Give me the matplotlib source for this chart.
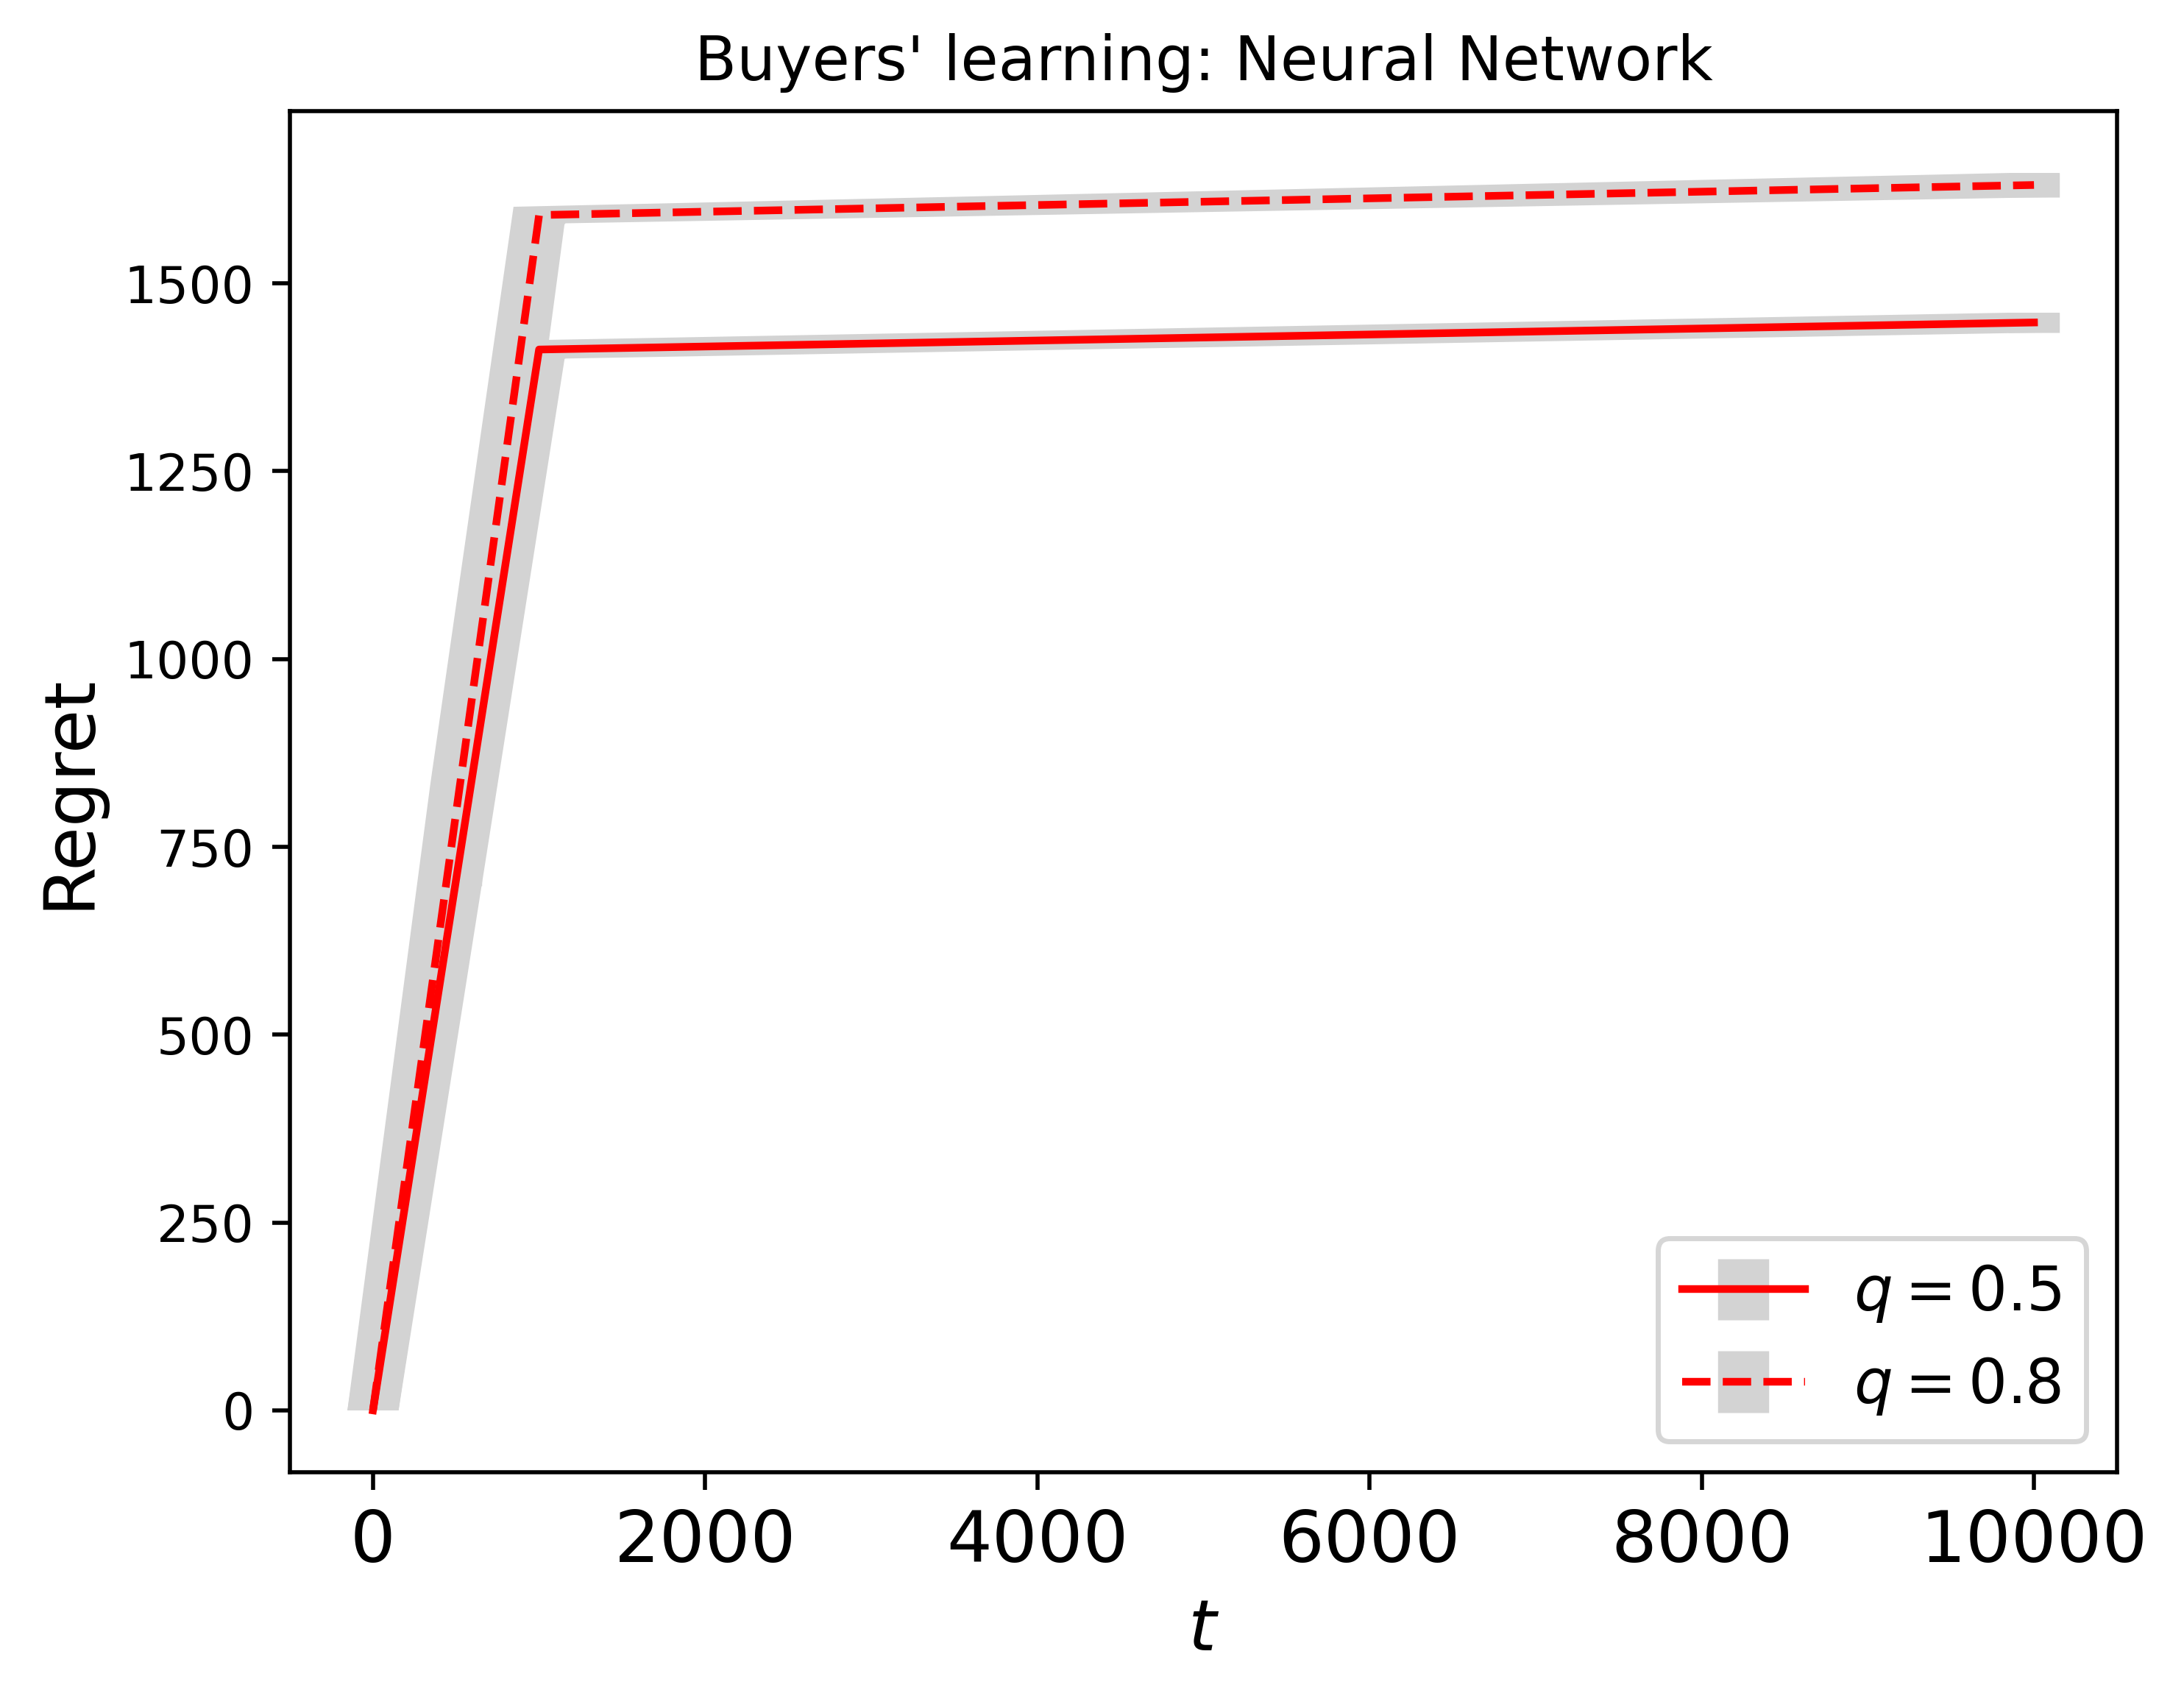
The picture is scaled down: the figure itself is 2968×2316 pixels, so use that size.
import matplotlib
matplotlib.use("Agg")
import matplotlib.pyplot as plt
import numpy as np

# values
t = [0, 500, 1000, 10000]
regret_q05 = [0, 706, 1412, 1448]
std_q05 = [0, 8, 12, 13]
regret_q08 = [0, 795, 1591, 1631]
std_q08 = [0, 40, 11, 16]
labels = ["$q = 0.5$", "$q = 0.8$"]
styles = ["-", "--"]

ELW = 10  # width of the grey error bars (pt)

fig = plt.figure(figsize=(5.936, 4.632), dpi=500)
ax = fig.add_axes([0.13275, 0.13601, 0.83659, 0.79879])

series = [(regret_q05, std_q05), (regret_q08, std_q08)]
for (y, e), ls, lab in zip(series, styles, labels):
    eb = ax.errorbar(t, y, yerr=e, color="red", ls=ls, lw=1.5,
                     ecolor="lightgray", elinewidth=ELW, label=lab, zorder=3)
    for c in eb[2]:
        c.set_zorder(1)

xl = ax.get_xlim()
yl = ax.get_ylim()
# half the bar width in data units of t
hx = ELW / 2 * fig.dpi / 72 / ax.bbox.width * (xl[1] - xl[0])

# grey band = the error bars swept along the mean curve
for y, e in series:
    tt = np.array(t, dtype=float)
    yy = np.array(y, dtype=float)
    ee = np.array(e, dtype=float)
    upper = np.column_stack([tt - hx, yy + ee])
    lower = np.column_stack([tt + hx, yy - ee])[::-1]
    poly = np.vstack([[tt[0] - hx, yy[0] - ee[0]], upper,
                      [tt[-1] + hx, yy[-1] + ee[-1]], lower])
    ax.fill(poly[:, 0], poly[:, 1], color="lightgray", lw=0, zorder=1)

ax.set_xlim(xl)
ax.set_ylim(yl)

ax.set_title("Buyers' learning: Neural Network")
ax.set_xlabel("$t$", fontsize=14)
ax.set_ylabel("Regret", fontsize=14)
ax.tick_params(axis="x", labelsize=14)
ax.legend(loc="lower right", fontsize=12)

fig.savefig("out.png", dpi=500)
